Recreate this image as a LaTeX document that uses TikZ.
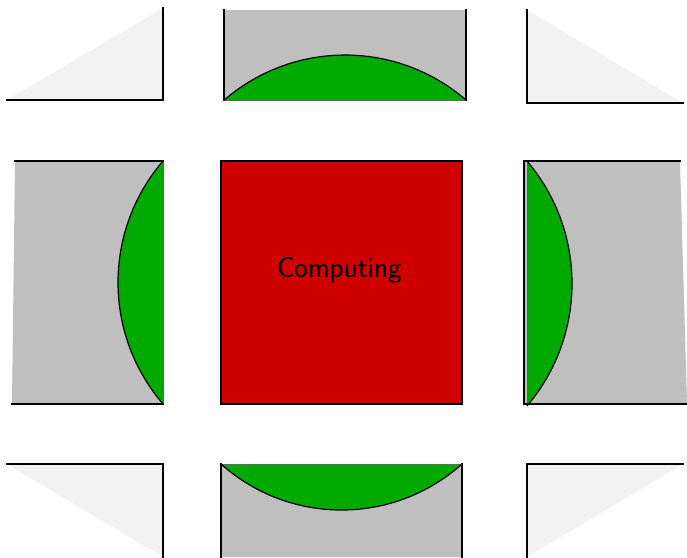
\documentclass[tikz,border=0pt]{standalone}
\font\compfont=cmss8 at 28.5pt
\begin{document}
\begin{tikzpicture}[x=1pt,y=1pt,
  edge/.style={line width=1.4pt,line cap=rect},
  chord/.style={line width=0.6pt,draw=black!60},
  arcline/.style={line width=1.2pt}]
\definecolor{pgray}{HTML}{BFBFBF}
\definecolor{pgreen}{HTML}{00AA00}
\definecolor{pred}{HTML}{CF0000}
\definecolor{plight}{HTML}{F2F2F2}
\useasboundingbox (0,0) rectangle (687,557);
% corner triangles
\fill[plight] (7,457) -- (163,549) -- (163,457) -- cycle;
\draw[edge] (163,549) -- (163,457) -- (7,457);
\fill[plight] (527,547) -- (527,454) -- (683,454) -- cycle;
\draw[edge] (527,547) -- (527,454) -- (683,454);
\fill[plight] (7,93) -- (163,93) -- (163,0) -- cycle;
\draw[edge] (7,93) -- (163,93) -- (163,0);
\fill[plight] (683,93) -- (527,93) -- (527,0) -- cycle;
\draw[edge] (683,93) -- (527,93) -- (527,0);
% top middle
\fill[pgray] (224,457) rectangle (466,547);
\fill[pgreen] (466,457) arc[start angle=49.2,end angle=130.8,radius=185] -- cycle;
\draw[chord] (224,457) -- (466,457);
\draw[arcline] (466,457) arc[start angle=49.2,end angle=130.8,radius=185];
\draw[edge] (224,547) -- (224,457);
\draw[edge] (466,547) -- (466,457);
% bottom middle
\fill[pgray] (221,0) rectangle (462,93);
\fill[pgreen] (221,93) arc[start angle=-131.8,end angle=-48.2,radius=180.8] -- cycle;
\draw[chord] (221,93) -- (462,93);
\draw[arcline] (221,93) arc[start angle=-131.8,end angle=-48.2,radius=180.8];
\draw[edge] (221,0) -- (221,93);
\draw[edge] (462,0) -- (462,93);
% middle left
\fill[pgray] (15,396) -- (163,396) -- (163,153) -- (12,153) -- cycle;
\fill[pgreen] (163,396) arc[start angle=139.35,end angle=220.65,radius=186.5] -- cycle;
\draw[chord] (163,396) -- (163,153);
\draw[arcline] (163,396) arc[start angle=139.35,end angle=220.65,radius=186.5];
\draw[edge] (15,396) -- (163,396);
\draw[edge] (12,153) -- (163,153);
% middle right
\fill[pgray] (524,396) -- (680,396) -- (687,153) -- (524,153) -- cycle;
\fill[pgreen] (527,151) arc[start angle=-40.35,end angle=40.35,radius=189.2] -- cycle;
\draw[arcline] (527,151) arc[start angle=-40.35,end angle=40.35,radius=189.2];
\draw[edge] (524,396) -- (524,153);
\draw[edge] (524,396) -- (680,396);
\draw[edge] (524,153) -- (687,153);
% centre
\draw[pred,fill=pred] (221,153) rectangle (462,396);
\draw[edge] (221,153) rectangle (462,396);
\node[anchor=base,xscale=0.9,transform shape] (comp) at (339.5,279) {\compfont Computing};
\end{tikzpicture}
\end{document}
